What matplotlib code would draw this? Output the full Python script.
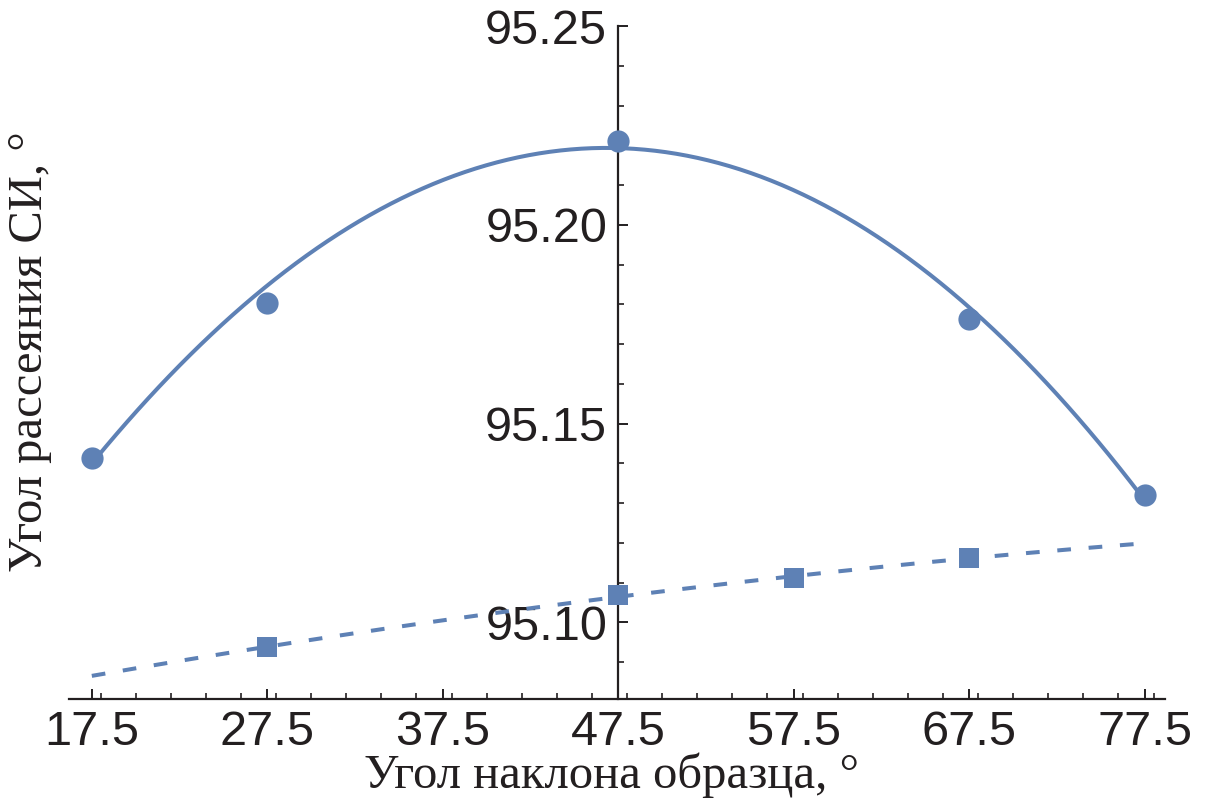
import numpy as np
import matplotlib
matplotlib.use("Agg")
import matplotlib.pyplot as plt
from matplotlib.ticker import MultipleLocator, FixedLocator

# Data
tilt_circles = [17.5, 27.5, 47.5, 67.5, 77.5]
angle_circles = [95.1413, 95.1804, 95.2210, 95.1762, 95.1320]
tilt_squares = [27.5, 47.5, 57.5, 67.5]
angle_squares = [95.0938, 95.1068, 95.1111, 95.1163]
x_ticks = [17.5, 27.5, 37.5, 47.5, 57.5, 67.5, 77.5]
y_ticks = [95.10, 95.15, 95.20, 95.25]

blue = '#5E81B5'
txt = '#231F20'

fig = plt.figure(figsize=(12.09, 8.05), dpi=100)
ax = fig.add_axes([69/1209, 1-699/805, (1165-69)/1209, (699-25)/805])

# fitted curves
xf = np.linspace(17.5, 77.5, 300)
c1 = np.polyfit(tilt_circles, angle_circles, 3, w=[1.2, 1, 1.7, 1.2, 1.2])
c2 = np.polyfit(tilt_squares, angle_squares, 2)
ax.plot(xf, np.polyval(c1, xf), color=blue, lw=2.9, solid_capstyle='butt', zorder=2)
ax.plot(xf, np.polyval(c2, xf), color=blue, lw=2.9, dashes=(3.4, 4.4), dash_capstyle='butt', zorder=2)
ax.plot(tilt_circles, angle_circles, 'o', color=blue, ms=16, mew=0, zorder=3)
ax.plot(tilt_squares, angle_squares, 's', color=blue, ms=14.5, mew=0, zorder=3)

ax.set_xlim(16.2, 78.65)
ax.set_ylim(95.0807, 95.2503)

for s in ['top', 'right']:
    ax.spines[s].set_visible(False)
ax.spines['left'].set_position(('data', 47.5))
ax.spines['left'].set_bounds(95.0807, 95.25)
for s in ['left', 'bottom']:
    ax.spines[s].set_linewidth(1.6)
    ax.spines[s].set_color(txt)

ax.xaxis.set_major_locator(FixedLocator(x_ticks))
ax.xaxis.set_minor_locator(MultipleLocator(2))
ax.yaxis.set_major_locator(FixedLocator(y_ticks))
ax.yaxis.set_minor_locator(MultipleLocator(0.01))
ax.set_xticklabels([f"{v:.1f}" for v in x_ticks])
ax.set_yticklabels([f"{v:.2f}" for v in y_ticks])

ax.tick_params(axis='both', which='major', direction='in', length=7, width=1.4,
               colors=txt, labelsize=35, pad=8)
ax.tick_params(axis='both', which='minor', direction='in', length=4, width=1.2, colors=txt)
for lab in ax.get_xticklabels() + ax.get_yticklabels():
    lab.set_fontfamily(['Liberation Sans', 'DejaVu Sans'])
    lab.set_color(txt)

fig.text(611/1209, 1-775/805, 'Угол наклона образца, °', ha='center', va='center',
         fontsize=35, family=['Liberation Serif', 'DejaVu Serif'], color=txt)
fig.text(30/1209, 1-352/805, 'Угол рассеяния СИ, °', ha='center', va='center',
         rotation=90, fontsize=35, family=['Liberation Serif', 'DejaVu Serif'], color=txt)

fig.savefig('out.png', dpi=100)
